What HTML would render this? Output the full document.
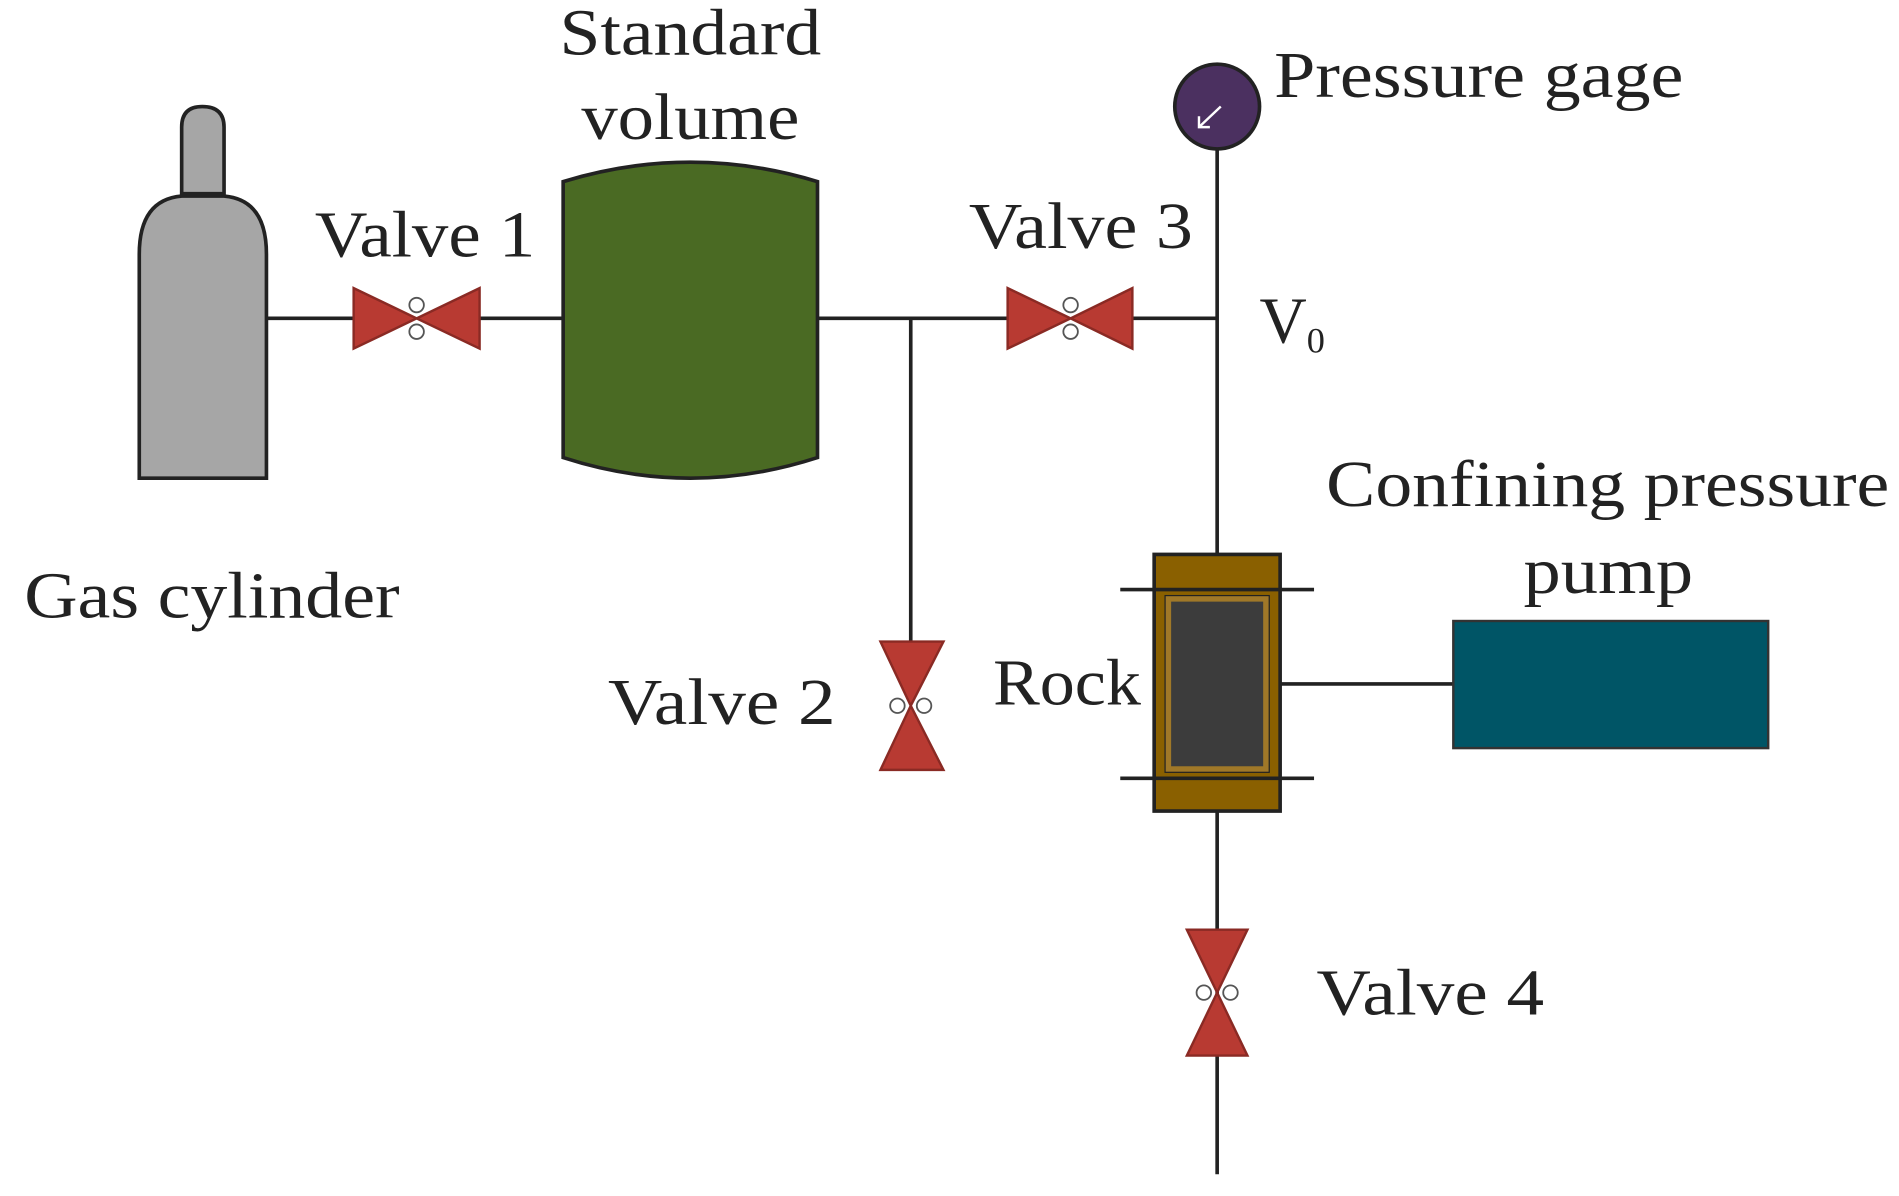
<!DOCTYPE html>
<html><head><meta charset="utf-8"><style>html,body{margin:0;padding:0;background:#fff}svg{display:block}</style></head>
<body>
<svg width="1899" height="1196" viewBox="0 0 1568 988" preserveAspectRatio="none" xmlns="http://www.w3.org/2000/svg" font-family="Liberation Serif, serif" font-size="54" fill="#222">
<g stroke="#222" stroke-width="3" fill="none">
<line x1="220" y1="263" x2="292" y2="263"/>
<line x1="396" y1="263" x2="465" y2="263"/>
<line x1="675" y1="263" x2="832" y2="263"/>
<line x1="935" y1="263" x2="1005" y2="263"/>
<line x1="752" y1="263" x2="752" y2="530"/>
<line x1="1005" y1="120" x2="1005" y2="458"/>
<line x1="1005" y1="670" x2="1005" y2="970"/>
<line x1="1057" y1="565" x2="1200" y2="565"/>
</g>
<path d="M150 160 L150 105 Q150 88 167 88 Q185 88 185 105 L185 160 Z" fill="#a6a6a6" stroke="#222" stroke-width="3"/>
<path d="M115 395 L115 210 Q115 165 150 162 L185 162 Q220 165 220 210 L220 395 Z" fill="#a6a6a6" stroke="#222" stroke-width="3"/>
<path d="M465 150 Q570 118 675 150 L675 378 Q570 412 465 378 Z" fill="#4a6a23" stroke="#222" stroke-width="3"/>
<g fill="#b83a32" stroke="#8a2a24" stroke-width="2">
<polygon points="292,238 344,263 292,288"/><polygon points="396,238 344,263 396,288"/>
<polygon points="832,238 884,263 832,288"/><polygon points="935,238 884,263 935,288"/>
<polygon points="727,530 752,583 779,530"/><polygon points="727,636 752,583 779,636"/>
<polygon points="980,768 1005,820 1030,768"/><polygon points="980,872 1005,820 1030,872"/>
</g>
<g fill="#fff" stroke="#555" stroke-width="1.5">
<circle cx="344" cy="252" r="6"/><circle cx="344" cy="274" r="6"/>
<circle cx="884" cy="252" r="6"/><circle cx="884" cy="274" r="6"/>
<circle cx="741" cy="583" r="6"/><circle cx="763" cy="583" r="6"/>
<circle cx="994" cy="820" r="6"/><circle cx="1016" cy="820" r="6"/>
</g>
<circle cx="1005" cy="88" r="35" fill="#4b3060" stroke="#222" stroke-width="3"/>
<path d="M1008 88 L990 105 M990 96 L990 105 L999 105" stroke="#fff" stroke-width="2" fill="none"/>
<rect x="953" y="458" width="104" height="212" fill="#8a6000" stroke="#222" stroke-width="3"/>
<rect x="962" y="492" width="86" height="146" fill="#a07828" stroke="#222" stroke-width="1"/>
<rect x="967" y="497" width="76" height="136" fill="#3c3c3c"/>
<line x1="925" y1="487" x2="1085" y2="487" stroke="#222" stroke-width="3"/>
<line x1="925" y1="643" x2="1085" y2="643" stroke="#222" stroke-width="3"/>
<rect x="1200" y="513" width="260" height="105" fill="#005566" stroke="#333" stroke-width="2"/>
<text x="462" y="45" textLength="216" lengthAdjust="spacingAndGlyphs">Standard</text>
<text x="480" y="115" textLength="180" lengthAdjust="spacingAndGlyphs">volume</text>
<text x="1052" y="80" textLength="338" lengthAdjust="spacingAndGlyphs">Pressure gage</text>
<text x="260" y="212" textLength="182" lengthAdjust="spacingAndGlyphs">Valve 1</text>
<text x="800" y="205" textLength="185" lengthAdjust="spacingAndGlyphs">Valve 3</text>
<text x="1040" y="283">V<tspan font-size="30" dy="8">0</tspan></text>
<text x="1095" y="418" textLength="465" lengthAdjust="spacingAndGlyphs">Confining pressure</text>
<text x="1258" y="490" textLength="140" lengthAdjust="spacingAndGlyphs">pump</text>
<text x="20" y="510" textLength="310" lengthAdjust="spacingAndGlyphs">Gas cylinder</text>
<text x="502" y="598" textLength="188" lengthAdjust="spacingAndGlyphs">Valve 2</text>
<text x="820" y="582" textLength="122" lengthAdjust="spacingAndGlyphs">Rock</text>
<text x="1087" y="838" textLength="188" lengthAdjust="spacingAndGlyphs">Valve 4</text>
</svg>
</body></html>
